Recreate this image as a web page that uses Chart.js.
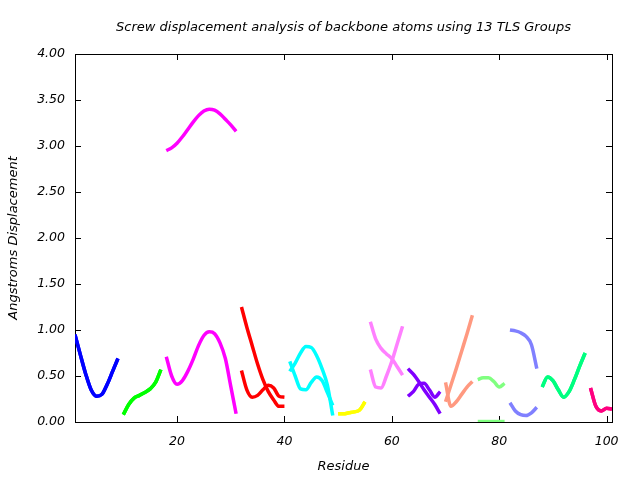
<!DOCTYPE html>
<html>
<head>
<meta charset="utf-8">
<script src="https://cdn.jsdelivr.net/npm/chart.js@4/dist/chart.umd.min.js"></script>
<style>
  html, body { margin: 0; padding: 0; background: #fff; }
  #wrap { width: 640px; height: 480px; }
</style>
</head>
<body>
<div id="wrap"><canvas id="c" width="640" height="480"></canvas></div>
<script>
// ---- data ----
const chartTitle = 'Screw displacement analysis of backbone atoms using 13 TLS Groups';
const xTitle = 'Residue';
const yTitle = 'Angstroms Displacement';
const xTicks = [20, 40, 60, 80, 100];
const yTicks = [0, 0.5, 1, 1.5, 2, 2.5, 3, 3.5, 4];

// first residue of each TLS group
const groupStart = [1, 10, 18, 32, 41, 50, 56, 63, 70, 76, 82, 88, 97];
const groupColor = ['#0000ff', '#00ff00', '#ff00ff', '#ff0000', '#00ffff', '#ffff00',
                    '#ff80ff', '#8000ff', '#ff9980', '#80ff80', '#8080ff', '#00ff80', '#ff0080'];

// two displacement curves per group (values per residue)
const curveA = [
  [0.95, 0.73, 0.52, 0.35, 0.28, 0.30, 0.41, 0.55, 0.69],
  [0.08, 0.19, 0.26, 0.29, 0.32, 0.36, 0.43, 0.57],
  [0.71, 0.50, 0.41, 0.45, 0.55, 0.68, 0.83, 0.94, 0.98, 0.96, 0.86, 0.69, 0.39, 0.09],
  [1.25, 1.03, 0.83, 0.63, 0.46, 0.33, 0.24, 0.17, 0.17],
  [0.55, 0.64, 0.75, 0.82, 0.81, 0.72, 0.58, 0.40, 0.07],
  [0.09, 0.09, 0.10, 0.11, 0.13, 0.22],
  [1.09, 0.90, 0.80, 0.74, 0.69, 0.60, 0.51],
  [0.58, 0.52, 0.44, 0.35, 0.27, 0.19, 0.09],
  [0.22, 0.40, 0.58, 0.77, 0.96, 1.16],
  [0.46, 0.48, 0.48, 0.44, 0.38, 0.42],
  [1.00, 0.99, 0.97, 0.93, 0.84, 0.58],
  [0.38, 0.49, 0.45, 0.35, 0.27, 0.33, 0.46, 0.61, 0.75],
  [0.37, 0.17, 0.12, 0.15, 0.14]
];
const curveB = [
  [0.95, 0.73, 0.52, 0.35, 0.28, 0.30, 0.41, 0.55, 0.69],
  [0.08, 0.19, 0.26, 0.29, 0.32, 0.36, 0.43, 0.57],
  [2.95, 2.98, 3.03, 3.10, 3.18, 3.26, 3.33, 3.38, 3.40, 3.39, 3.35, 3.29, 3.23, 3.16],
  [0.56, 0.35, 0.27, 0.29, 0.35, 0.40, 0.37, 0.28, 0.27],
  [0.66, 0.50, 0.36, 0.35, 0.43, 0.49, 0.45, 0.32, 0.18],
  [0.09, 0.09, 0.10, 0.11, 0.13, 0.22],
  [0.57, 0.38, 0.37, 0.50, 0.66, 0.85, 1.04],
  [0.28, 0.33, 0.41, 0.42, 0.35, 0.27, 0.33],
  [0.43, 0.17, 0.22, 0.30, 0.38, 0.44],
  [0.005, 0.005, 0.005, 0.005, 0.005, 0.005],
  [0.21, 0.12, 0.08, 0.07, 0.10, 0.16],
  [0.38, 0.49, 0.45, 0.35, 0.27, 0.33, 0.46, 0.61, 0.75],
  [0.37, 0.17, 0.12, 0.15, 0.14]
];

// ---- build datasets ----
function toPoints(start, vals) { return vals.map((v, i) => ({ x: start + i, y: v })); }
const datasets = [];
groupStart.forEach((s, g) => {
  [curveA[g], curveB[g]].forEach(vals => {
    datasets.push({
      data: toPoints(s, vals),
      borderColor: groupColor[g],
      backgroundColor: groupColor[g],
      borderWidth: 3.5,
      pointRadius: 0,
      cubicInterpolationMode: 'monotone',
      fill: false
    });
  });
});

const FONT = { family: '"DejaVu Sans", sans-serif', size: 12.5, style: 'italic' };
const TFONT = { family: '"DejaVu Sans", sans-serif', size: 13, style: 'italic', weight: 'normal' };

// frame with inward ticks on all four sides
const framePlugin = {
  id: 'frame',
  beforeDatasetsDraw(chart) {
    const { ctx, chartArea: a, scales } = chart;
    ctx.save();
    ctx.strokeStyle = '#000';
    ctx.lineWidth = 1;
    ctx.strokeRect(Math.round(a.left) + 0.5, Math.round(a.top) + 0.5,
                   Math.round(a.right - a.left), Math.round(a.bottom - a.top));
    const L = 6;
    ctx.beginPath();
    xTicks.forEach(v => {
      const px = Math.round(scales.x.getPixelForValue(v)) + 0.5;
      ctx.moveTo(px, a.bottom); ctx.lineTo(px, a.bottom - L);
      ctx.moveTo(px, a.top); ctx.lineTo(px, a.top + L);
    });
    yTicks.forEach(v => {
      const py = Math.round(scales.y.getPixelForValue(v)) + 0.5;
      ctx.moveTo(a.left, py); ctx.lineTo(a.left + L, py);
      ctx.moveTo(a.right, py); ctx.lineTo(a.right - L, py);
    });
    ctx.stroke();
    ctx.restore();
  }
};

new Chart(document.getElementById('c'), {
  type: 'line',
  data: { datasets },
  plugins: [framePlugin],
  options: {
    responsive: false,
    animation: false,
    layout: { padding: { left: 0, right: 28, top: 0, bottom: 0 } },
    plugins: {
      legend: { display: false },
      tooltip: { enabled: false },
      title: {
        display: true,
        fullSize: false,
        text: chartTitle,
        color: '#000',
        font: TFONT,
        padding: { top: 20, bottom: 18.4 }
      }
    },
    scales: {
      x: {
        type: 'linear',
        min: 1, max: 101,
        afterBuildTicks: s => { s.ticks = xTicks.map(v => ({ value: v })); },
        afterFit: s => { s.height = 58; },
        grid: { display: false, drawTicks: false },
        border: { display: false },
        ticks: { color: '#000', font: FONT, padding: 12, maxRotation: 0,
                 callback: v => String(v) },
        title: { display: true, text: xTitle, color: '#000', font: TFONT,
                 padding: { top: 0, bottom: 6 } }
      },
      y: {
        type: 'linear',
        min: 0, max: 4,
        afterBuildTicks: s => { s.ticks = yTicks.map(v => ({ value: v })); },
        afterFit: s => { s.width = 75; },
        grid: { display: false, drawTicks: false },
        border: { display: false },
        ticks: { color: '#000', font: FONT, padding: 10,
                 callback: v => Number(v).toFixed(2) },
        title: { display: true, text: yTitle, color: '#000', font: TFONT,
                 padding: { top: 6, bottom: 0 } }
      }
    }
  }
});
</script>
</body>
</html>
